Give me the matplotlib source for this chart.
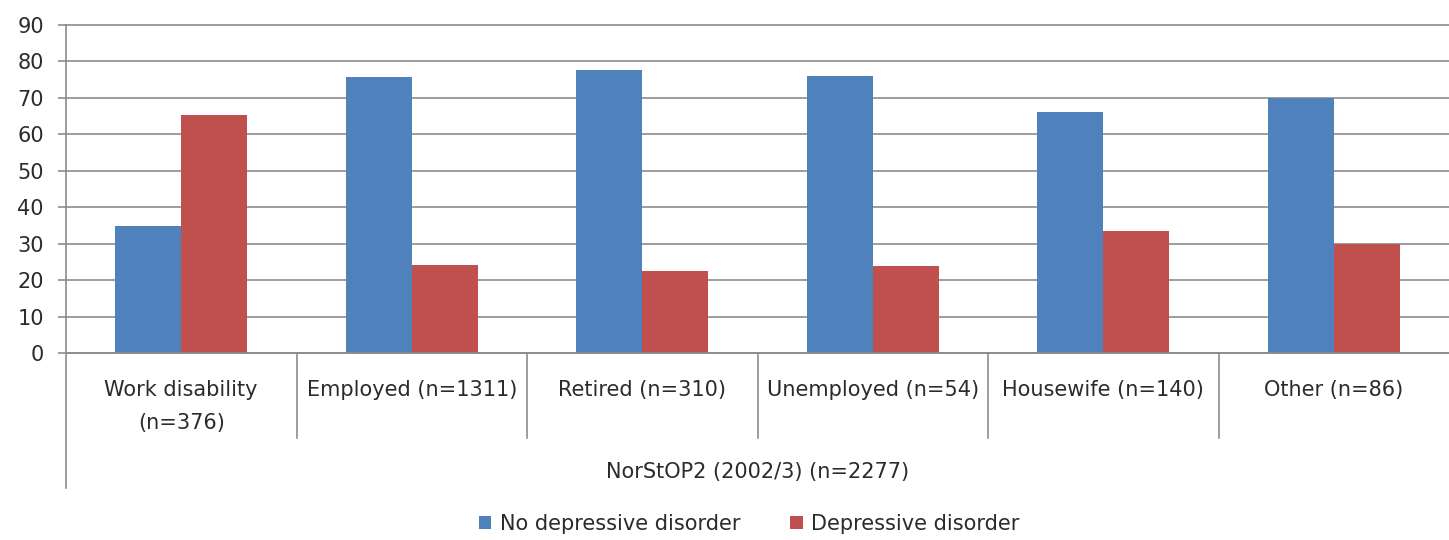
"""Grouped bar chart: depressive disorder by work status (NorStOP2)."""

import matplotlib
matplotlib.use("Agg")
import matplotlib.pyplot as plt
import numpy as np
from matplotlib.patches import Patch

categories = [
    "Work disability\n(n=376)",
    "Employed (n=1311)",
    "Retired (n=310)",
    "Unemployed (n=54)",
    "Housewife (n=140)",
    "Other (n=86)",
]
group_label = "NorStOP2 (2002/3) (n=2277)"
series_names = ["No depressive disorder", "Depressive disorder"]
no_depression = [34.8, 75.8, 77.6, 76.0, 66.2, 70.0]
depression = [65.2, 24.2, 22.4, 23.8, 33.6, 30.0]
y_ticks = [0, 10, 20, 30, 40, 50, 60, 70, 80, 90]

BLUE = "#4F81BD"
RED = "#C0504D"
GRID = "#8C8C8C"
TEXT = "#2B2B2B"
FS = 15

plt.rcParams["font.family"] = ["DejaVu Sans"]

fig = plt.figure(figsize=(14.49, 5.40), dpi=100)
ax = fig.add_axes([66 / 1449, 187 / 540, 1383 / 1449, 328 / 540])

x = np.arange(len(categories))
width = 1 / 3.5  # Excel gap width 150%
ax.bar(x - width / 2, no_depression, width, color=BLUE, zorder=3)
ax.bar(x + width / 2, depression, width, color=RED, zorder=3)

ax.set_xlim(-0.5, len(categories) - 0.5)
ax.set_ylim(0, 90)
ax.set_yticks(y_ticks)
ax.tick_params(axis="y", length=6, width=1.2, color=GRID, pad=10,
               labelsize=FS, labelcolor=TEXT)
ax.set_xticks([])
ax.yaxis.grid(True, color=GRID, linewidth=1.2, zorder=0)
for gl in ax.get_ygridlines():
    gl.set_clip_on(False)
for side in ("top", "right", "left"):
    ax.spines[side].set_visible(False)
ax.spines["bottom"].set_color(GRID)
ax.spines["bottom"].set_linewidth(1.2)
ax.spines["bottom"].set_zorder(4)

# left axis line extends down through the category label area
ax.plot([0, 0], [-0.412, 1.0], transform=ax.transAxes, color=GRID,
        linewidth=1.2, clip_on=False, zorder=4)

xt = ax.get_xaxis_transform()
for b in np.arange(0.5, len(categories) - 0.5, 1.0):
    ax.plot([b, b], [0, -0.259], transform=xt, color=GRID, linewidth=1.2,
            clip_on=False)

for i, label in enumerate(categories):
    lines = label.split("\n")
    for j, line in enumerate(lines):
        ax.text(i, -0.113 - 0.1 * j, line, transform=xt, ha="center",
                va="center", fontsize=FS, color=TEXT)

ax.text((len(categories) - 1) / 2, -0.363, group_label, transform=xt,
        ha="center", va="center", fontsize=FS, color=TEXT)

handles = [Patch(facecolor=BLUE), Patch(facecolor=RED)]
fig.legend(handles, series_names, loc="center", bbox_to_anchor=(0.517, 0.03),
           ncol=2, frameon=False, fontsize=FS, labelcolor=TEXT,
           handlelength=0.6, handleheight=0.6, handletextpad=0.4,
           columnspacing=2.4)

fig.savefig("out.png", dpi=100)
